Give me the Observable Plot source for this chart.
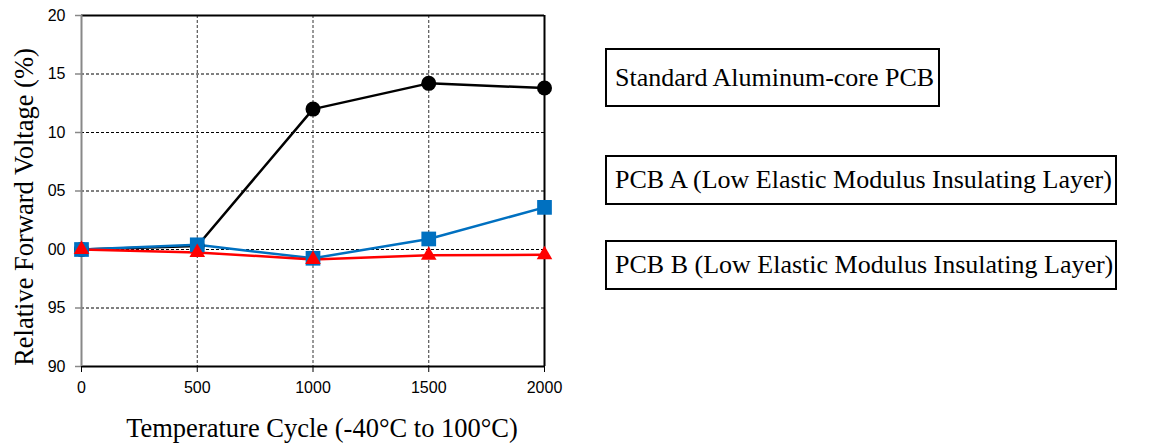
<!DOCTYPE html>
<html>
<head>
<meta charset="utf-8">
<script src="https://cdn.jsdelivr.net/npm/d3@7"></script>
<script src="https://cdn.jsdelivr.net/npm/@observablehq/plot@0.6"></script>
<style>
  body { margin: 0; background: #fff; }
  #wrap { position: relative; width: 1166px; height: 443px; }
  .box { position: absolute; border: 2px solid #000; box-sizing: border-box;
         font-family: "Liberation Serif", "DejaVu Serif", serif; font-size: 26px;
         color: #000; padding-left: 8px; display: flex; align-items: center; white-space: nowrap; }
</style>
</head>
<body>
<div id="wrap"></div>
<script>
const cycles = [0, 500, 1000, 1500, 2000];
const standardPCB = [100, 100.3, 112.0, 114.2, 113.8];
const pcbA = [100, 100.4, 99.25, 100.9, 103.6];
const pcbB = [100, 99.75, 99.15, 99.5, 99.55];
const yTicks = [90, 95, 100, 105, 110, 115, 120];
const yTickLabels = ["90", "95", "00", "05", "10", "15", "20"];
const xTicks = [0, 500, 1000, 1500, 2000];
const legendLabels = [
  "Standard Aluminum-core PCB",
  "PCB A (Low Elastic Modulus Insulating Layer)",
  "PCB B (Low Elastic Modulus Insulating Layer)"
];
const xTitle = "Temperature Cycle (-40°C to 100°C)";
const yTitle = "Relative Forward Voltage (%)";

const mk = (vals) => cycles.map((c, i) => ({x: c, y: vals[i]}));
const sData = mk(standardPCB), aData = mk(pcbA), bData = mk(pcbB);

const serif = "Liberation Serif, DejaVu Serif, serif";

const chart = Plot.plot({
  width: 1166,
  height: 443,
  marginLeft: 81,
  marginRight: 622,
  marginTop: 15,
  marginBottom: 77,
  style: {fontFamily: "Liberation Sans, Arial, sans-serif", fontSize: "16px", color: "#000", background: "#fff", overflow: "visible"},
  x: {domain: [0, 2000]},
  y: {domain: [90, 120]},
  marks: [
    Plot.ruleY(yTicks.filter(d => d > 90 && d < 120), {stroke: "#000", strokeDasharray: "3,2", strokeWidth: 1}),
    Plot.ruleX(xTicks.filter(d => d > 0 && d < 2000), {stroke: "#333", strokeDasharray: "3,2", strokeWidth: 1}),
    Plot.ruleY([120], {stroke: "#000", strokeWidth: 2}),
    Plot.ruleY([90], {stroke: "#000", strokeWidth: 2}),
    Plot.ruleX([2000], {stroke: "#000", strokeWidth: 2}),
    Plot.ruleX([0], {stroke: "#888", strokeWidth: 2}),
    Plot.axisY({ticks: yTicks, tickFormat: (d) => yTickLabels[yTicks.indexOf(d)], tickSize: 6, tickPadding: 10, stroke: "#888", strokeWidth: 1.5, label: null, fontSize: 16}),
    Plot.axisX({ticks: xTicks, tickFormat: d => String(d), tickSize: 6, tickPadding: 9, stroke: "#000", label: null, fontSize: 16}),
    Plot.line(sData, {x: "x", y: "y", stroke: "#000", strokeWidth: 2.5}),
    Plot.line(aData, {x: "x", y: "y", stroke: "#0070C0", strokeWidth: 2.5}),
    Plot.line(bData, {x: "x", y: "y", stroke: "#FF0000", strokeWidth: 2.5}),
    Plot.dot(sData, {x: "x", y: "y", fill: "#000", r: 7.5, symbol: "circle"}),
    Plot.dot(aData, {x: "x", y: "y", fill: "#0070C0", r: 8.3, symbol: "square"}),
    Plot.dot(bData, {x: "x", y: "y", fill: "#FF0000", r: 5.8, symbol: "triangle"}),
    Plot.text([xTitle], {frameAnchor: "bottom", text: d => d, dx: 9, dy: 70, fontSize: 26.5, fontFamily: serif, fill: "#000"}),
    Plot.text([yTitle], {frameAnchor: "left", textAnchor: "middle", text: d => d, rotate: -90, dx: -57, dy: 16, fontSize: 26.5, fontFamily: serif, fill: "#000"})
  ]
});

const wrap = document.getElementById("wrap");
wrap.appendChild(chart);

const boxes = [
  {left: 605, top: 48, width: 335, height: 59},
  {left: 605, top: 155, width: 512, height: 50},
  {left: 605, top: 240, width: 512, height: 50}
];
legendLabels.forEach((t, i) => {
  const d = document.createElement("div");
  d.className = "box";
  const b = boxes[i];
  d.style.left = b.left + "px"; d.style.top = b.top + "px";
  d.style.width = b.width + "px"; d.style.height = b.height + "px";
  d.textContent = t;
  wrap.appendChild(d);
});
</script>
</body>
</html>
